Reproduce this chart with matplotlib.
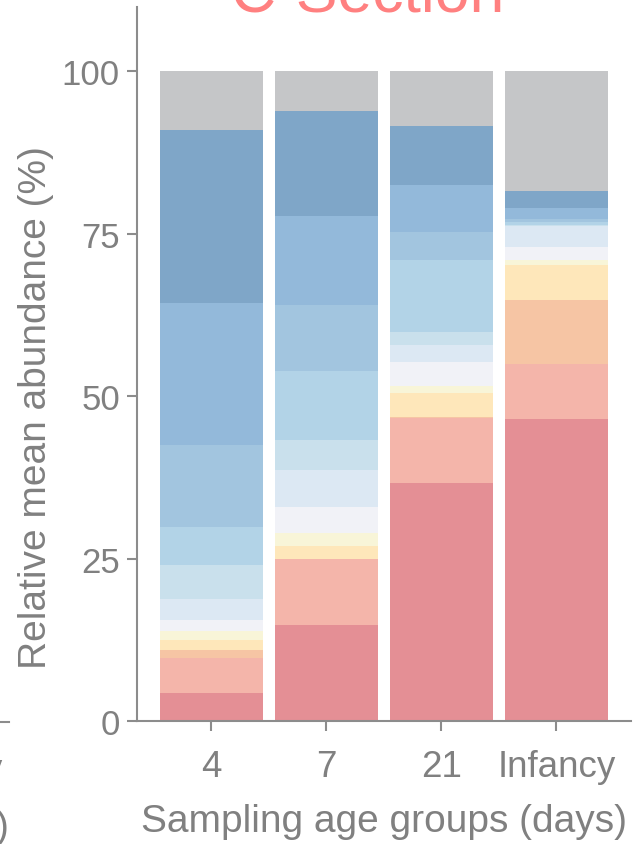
import matplotlib
matplotlib.use("Agg")
import matplotlib.pyplot as plt
from matplotlib.lines import Line2D
import numpy as np

matplotlib.rc("font", family=["Liberation Sans", "DejaVu Sans"], size=25)
matplotlib.rc("axes", linewidth=1.5, edgecolor="#8c8c8c", labelcolor="#808080")
matplotlib.rc("xtick", color="#8c8c8c", labelcolor="#808080")
matplotlib.rc("ytick", color="#8c8c8c", labelcolor="#808080")

# Sampling age groups
groups = ["4", "7", "21", "Infancy"]

# Relative mean abundance (%) per taxon, bottom of the stack first
taxon_01 = [4.25, 14.7, 36.6, 46.4]
taxon_02 = [5.4, 10.2, 10.0, 8.5]
taxon_03 = [1.35, 0.1, 0.2, 9.9]
taxon_04 = [1.4, 1.9, 3.7, 5.3]
taxon_05 = [1.45, 2.0, 1.0, 0.9]
taxon_06 = [1.65, 4.0, 3.7, 1.9]
taxon_07 = [3.2, 5.7, 2.6, 3.2]
taxon_08 = [5.3, 4.7, 2.1, 0.2]
taxon_09 = [5.9, 10.5, 11.1, 0.5]
taxon_10 = [12.5, 10.2, 4.3, 0.4]
taxon_11 = [21.9, 13.7, 7.1, 1.8]
taxon_12 = [26.6, 16.2, 9.2, 2.5]
other = [9.1, 6.1, 8.4, 18.5]

layers = [taxon_01, taxon_02, taxon_03, taxon_04, taxon_05, taxon_06,
          taxon_07, taxon_08, taxon_09, taxon_10, taxon_11, taxon_12, other]
colours = ["#e48f95", "#f4b5aa", "#f6c5a4", "#fee7ba", "#f8f5d8", "#f1f2f7",
           "#dce8f3", "#c9e0ec", "#b2d3e7", "#a2c5df", "#93b9da", "#7fa6c8",
           "#c5c6c8"]

W, H = 633, 845
figure = plt.figure(figsize=(W / 100, H / 100), dpi=100)
axes = figure.add_axes([136.5 / W, 123 / H, (631 - 136.5) / W, 714 / H])

x = np.arange(len(groups))
bottom = np.zeros(len(groups))
for values, colour in zip(layers, colours):
    axes.bar(x, values, width=0.9, bottom=bottom, color=colour,
             edgecolor="none")
    bottom += np.array(values)

axes.set_xlim(-0.65, 3.65)
axes.set_ylim(0, 109.85)
axes.set_yticks([0, 25, 50, 75, 100])
axes.set_xticks(x)
axes.set_xticklabels(groups, fontsize=26.5)
axes.tick_params(length=7, width=1.5, pad=5)
axes.tick_params(axis="x", pad=13)
axes.spines["top"].set_visible(False)
axes.spines["right"].set_visible(False)

axes.set_xlabel("Sampling age groups (days)", fontsize=28, labelpad=14)
axes.set_ylabel("Relative mean abundance (%)", fontsize=28)
axes.yaxis.set_label_coords(-0.166, 0.441)

# Panel title
figure.text(368 / W, 1 - 12 / H, "C-Section", color="#ff8080", fontsize=45,
            ha="center", va="baseline")

# Edge of the neighbouring panel
figure.add_artist(Line2D([0, 9 / W], [1 - 723 / H, 1 - 723 / H],
                         color="#8c8c8c", linewidth=1.5))
figure.text(3 / W, 1 - 780 / H, "Infancy", color="#808080", fontsize=26.5,
            ha="right", va="baseline")
figure.text(9 / W, 1 - 838 / H, ")", color="#808080", fontsize=28,
            ha="right", va="baseline")

figure.savefig("out.png", dpi=100)
